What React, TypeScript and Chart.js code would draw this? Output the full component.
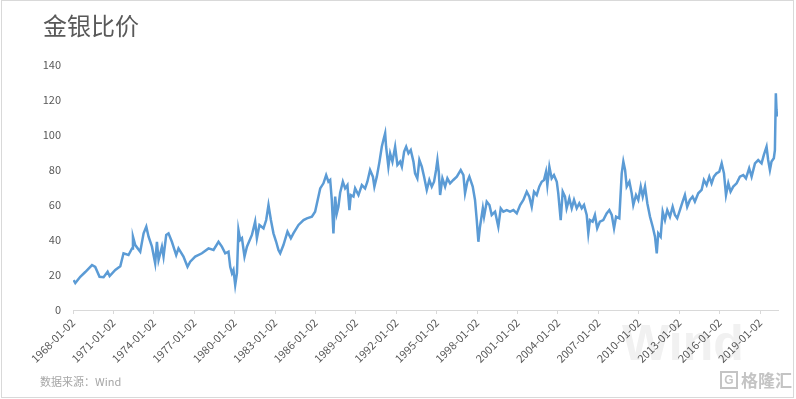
import React, { useEffect, useRef } from "react";
import { Chart, registerables } from "chart.js";

Chart.register(...registerables);

const title = "金银比价";
const source = "数据来源：Wind";
const watermark = "Wind";
const logoText = "格隆汇";

// decimal years
const years = [
  1968.04, 1968.17, 1968.54, 1968.91, 1969.41, 1969.65, 1969.97, 1970.27, 1970.57, 1970.72,
  1971.14, 1971.51, 1971.75, 1972.12, 1972.38, 1972.45, 1972.62, 1972.99, 1973.24, 1973.44,
  1973.61, 1973.86, 1974.10, 1974.23, 1974.35, 1974.60, 1974.72, 1974.92, 1975.09, 1975.34,
  1975.66, 1975.83, 1976.20, 1976.50, 1976.70, 1977.07, 1977.57, 1978.06, 1978.43, 1978.80,
  1979.05, 1979.30, 1979.54, 1979.67, 1979.80, 1979.91, 1980.04, 1980.17, 1980.28, 1980.41,
  1980.54, 1980.73, 1980.91, 1981.28, 1981.52, 1981.65, 1981.84, 1982.14, 1982.34, 1982.51,
  1982.69, 1982.88, 1983.08, 1983.25, 1983.38, 1983.62, 1983.92, 1984.17, 1984.36, 1984.74,
  1985.11, 1985.36, 1985.73, 1985.97, 1986.35, 1986.59, 1986.79, 1986.96, 1987.09, 1987.21,
  1987.33, 1987.46, 1987.58, 1987.70, 1987.83, 1988.03, 1988.20, 1988.37, 1988.52, 1988.62,
  1988.82, 1988.94, 1989.19, 1989.44, 1989.68, 1989.85, 1990.05, 1990.26, 1990.37, 1990.55,
  1990.75, 1990.92, 1991.04, 1991.17, 1991.24, 1991.41, 1991.54, 1991.71, 1991.91, 1992.08,
  1992.28, 1992.41, 1992.58, 1992.73, 1992.90, 1993.07, 1993.27, 1993.39, 1993.56, 1993.71,
  1993.89, 1994.06, 1994.26, 1994.45, 1994.63, 1994.80, 1994.95, 1995.05, 1995.15, 1995.25,
  1995.42, 1995.62, 1995.79, 1995.99, 1996.23, 1996.49, 1996.78, 1996.98, 1997.10, 1997.27,
  1997.42, 1997.67, 1997.84, 1997.97, 1998.09, 1998.21, 1998.42, 1998.51, 1998.71, 1998.91,
  1999.08, 1999.33, 1999.57, 1999.75, 1999.94, 2000.20, 2000.44, 2000.69, 2000.94, 2001.19,
  2001.43, 2001.68, 2001.87, 2002.05, 2002.22, 2002.42, 2002.61, 2002.79, 2002.96, 2003.11,
  2003.21, 2003.36, 2003.53, 2003.70, 2003.91, 2004.02, 2004.20, 2004.35, 2004.52, 2004.64,
  2004.84, 2005.02, 2005.19, 2005.39, 2005.58, 2005.76, 2005.93, 2006.13, 2006.25, 2006.37,
  2006.57, 2006.74, 2006.91, 2007.11, 2007.36, 2007.61, 2007.81, 2007.99, 2008.16, 2008.31,
  2008.55, 2008.73, 2008.85, 2008.98, 2009.10, 2009.30, 2009.47, 2009.59, 2009.79, 2009.96,
  2010.14, 2010.29, 2010.46, 2010.63, 2010.83, 2011.03, 2011.20, 2011.33, 2011.44, 2011.62,
  2011.77, 2011.94, 2012.11, 2012.31, 2012.51, 2012.68, 2012.85, 2013.05, 2013.25, 2013.42,
  2013.59, 2013.79, 2013.99, 2014.16, 2014.41, 2014.66, 2014.83, 2015.03, 2015.23, 2015.40,
  2015.57, 2015.77, 2015.97, 2016.15, 2016.32, 2016.47, 2016.64, 2016.81, 2017.01, 2017.26,
  2017.50, 2017.75, 2017.95, 2018.19, 2018.37, 2018.62, 2018.86, 2019.11, 2019.28, 2019.48,
  2019.60, 2019.73, 2019.85, 2020.02, 2020.10, 2020.17, 2020.22, 2020.27,
];

const ratio = [
  17.1, 15.4, 19.0, 21.7, 25.7, 24.6, 19.0, 18.7, 21.9, 19.4,
  22.9, 25.0, 32.4, 31.4, 35.2, 41.9, 37.1, 33.3, 43.8, 47.6,
  41.9, 36.2, 26.7, 39.0, 28.6, 36.2, 30.5, 42.9, 43.8, 39.0,
  31.4, 35.2, 30.5, 24.7, 27.6, 30.5, 32.4, 35.2, 34.3, 39.0,
  36.2, 32.4, 33.3, 24.7, 21.0, 22.9, 14.3, 21.0, 45.7, 40.0,
  41.0, 30.5, 36.2, 42.9, 50.5, 41.0, 48.6, 46.7, 51.4, 60.0,
  51.4, 43.8, 39.0, 34.3, 32.4, 37.1, 44.8, 41.0, 43.8, 48.6,
  51.4, 52.4, 53.3, 56.2, 69.5, 72.4, 77.1, 73.3, 74.3, 62.9,
  43.8, 64.8, 55.2, 59.0, 67.0, 73.3, 69.5, 71.4, 57.1, 65.7,
  64.8, 69.5, 65.7, 71.4, 69.5, 73.3, 80.0, 76.2, 70.5, 76.2,
  84.8, 93.3, 97.1, 101.0, 93.3, 81.9, 89.5, 84.8, 93.3, 82.9,
  84.8, 81.9, 90.5, 93.3, 89.5, 91.4, 84.8, 78.1, 75.2, 85.7,
  81.9, 76.2, 68.6, 74.3, 70.5, 73.3, 80.0, 85.7, 79.0, 65.7,
  75.2, 70.5, 75.2, 72.4, 74.3, 76.2, 80.0, 77.1, 66.7, 73.3,
  76.2, 70.5, 62.9, 51.4, 39.0, 47.6, 58.1, 53.3, 61.9, 60.0,
  54.3, 56.2, 47.6, 58.1, 56.2, 57.1, 56.2, 57.1, 55.2, 60.0,
  62.9, 67.6, 64.8, 59.0, 67.6, 65.7, 70.5, 73.3, 74.3, 79.0,
  71.4, 81.9, 75.2, 77.1, 73.3, 66.7, 51.4, 67.6, 64.8, 58.1,
  63.8, 58.1, 62.9, 58.1, 61.0, 58.1, 60.0, 54.3, 43.8, 51.4,
  50.5, 54.3, 46.7, 50.5, 51.4, 55.2, 57.1, 54.3, 46.7, 53.3,
  52.4, 78.1, 84.8, 80.0, 70.5, 73.3, 66.7, 60.0, 65.7, 62.9,
  70.5, 64.8, 70.5, 61.0, 53.3, 47.6, 41.9, 32.4, 43.8, 41.9,
  56.2, 51.4, 57.1, 53.3, 59.0, 54.3, 52.4, 57.1, 61.9, 65.7,
  59.0, 62.9, 64.8, 61.9, 66.7, 68.6, 74.3, 71.4, 76.2, 72.4,
  76.2, 78.1, 79.0, 83.8, 78.1, 65.7, 72.4, 67.6, 70.5, 72.4,
  76.2, 77.1, 75.2, 81.0, 76.2, 83.8, 85.7, 83.8, 88.6, 93.3,
  85.7, 80.0, 84.8, 86.7, 91.4, 123.8, 114.3, 110.5,
];

const tickYears = [1968, 1971, 1974, 1977, 1980, 1983, 1986, 1989, 1992, 1995, 1998, 2001, 2004, 2007, 2010, 2013, 2016, 2019];
const tickSuffix = "-01-02";
const xMin = 1968;
const xMax = 2020.33;
const yMin = 0;
const yMax = 140;
const yStep = 20;

const FONT = "'Noto Sans CJK SC', 'Noto Sans', sans-serif";

export default function App() {
  const ref = useRef<HTMLCanvasElement>(null);

  useEffect(() => {
    const chart = new Chart(ref.current as HTMLCanvasElement, {
      type: "line",
      data: {
        datasets: [
          {
            data: years.map((x, i) => ({ x, y: ratio[i] })),
            borderColor: "#5b9bd5",
            backgroundColor: "#5b9bd5",
            borderWidth: 2.5,
            pointRadius: 0,
            tension: 0,
            fill: false,
          },
        ],
      },
      options: {
        animation: false,
        responsive: false,
        maintainAspectRatio: false,
        layout: { padding: { top: 65, right: 18, left: 0, bottom: 0 } },
        plugins: { legend: { display: false }, tooltip: { enabled: false } },
        scales: {
          x: {
            type: "linear",
            min: xMin,
            max: xMax,
            afterBuildTicks: (axis: any) => {
              axis.ticks = tickYears.map((v) => ({ value: v }));
            },
            afterFit: (s: any) => {
              s.height = 89;
            },
            grid: { display: true, drawOnChartArea: false, drawTicks: true, tickLength: 4, color: "#d9d9d9" },
            border: { display: true, color: "#d9d9d9", width: 1 },
            ticks: {
              minRotation: 45,
              maxRotation: 45,
              autoSkip: false,
              padding: 2,
              color: "#595959",
              font: { size: 11, family: FONT },
              callback: (v: any) => `${v}${tickSuffix}`,
            },
          },
          y: {
            min: yMin,
            max: yMax,
            afterFit: (s: any) => {
              s.width = 73;
            },
            grid: { display: false, drawTicks: false },
            border: { display: false },
            ticks: {
              stepSize: yStep,
              padding: 12,
              color: "#595959",
              font: { size: 11, family: FONT },
            },
          },
        },
      },
    });
    return () => chart.destroy();
  }, []);

  return (
    <div
      style={{
        position: "absolute",
        left: 0,
        top: 0,
        width: 796,
        height: 399,
        background: "#ffffff",
        overflow: "hidden",
        fontFamily: FONT,
      }}
    >
      <div
        style={{
          position: "absolute",
          left: 1,
          top: 0,
          width: 793,
          height: 398,
          boxSizing: "border-box",
          border: "1px solid #d9d9d9",
        }}
      />
      <div
        style={{
          position: "absolute",
          left: 622,
          top: 318,
          fontSize: 50,
          fontWeight: 700,
          color: "#f1f1f1",
          lineHeight: "50px",
          fontFamily: "'Liberation Sans', sans-serif",
        }}
      >
        {watermark}
      </div>
      <canvas ref={ref} width={796} height={399} style={{ position: "absolute", left: 0, top: 0, width: 796, height: 399 }} />
      <div
        style={{
          position: "absolute",
          left: 43,
          top: 13,
          fontSize: 24,
          lineHeight: "24px",
          color: "#595959",
        }}
      >
        {title}
      </div>
      <div
        style={{
          position: "absolute",
          left: 40,
          top: 375,
          fontSize: 11,
          lineHeight: "12px",
          color: "#a6a6a6",
        }}
      >
        {source}
      </div>
      <div
        style={{
          position: "absolute",
          left: 720,
          top: 370,
          display: "flex",
          alignItems: "center",
          gap: 3,
          color: "#c4c4c4",
        }}
      >
        <span
          style={{
            display: "inline-block",
            width: 18,
            height: 18,
            border: "2px solid #c4c4c4",
            boxSizing: "border-box",
            fontSize: 12,
            lineHeight: "14px",
            textAlign: "center",
            fontWeight: 700,
            fontFamily: "'Liberation Sans', sans-serif",
          }}
        >
          G
        </span>
        <span style={{ fontSize: 17, lineHeight: "20px", fontWeight: 700 }}>{logoText}</span>
      </div>
    </div>
  );
}
